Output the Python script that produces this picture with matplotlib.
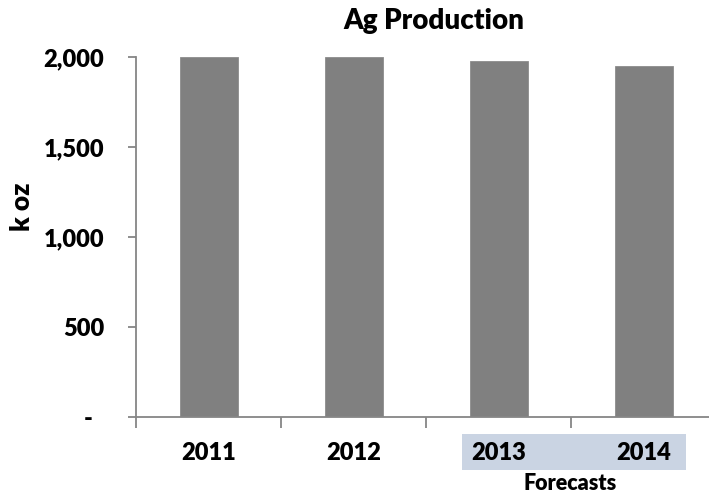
import matplotlib
matplotlib.use("Agg")
import matplotlib.pyplot as plt
from matplotlib.patches import Rectangle
from matplotlib.transforms import blended_transform_factory
from matplotlib.ticker import FuncFormatter, FixedLocator

years = ["2011", "2012", "2013", "2014"]
production = [2000, 2000, 1978, 1952]
y_ticks = [0, 500, 1000, 1500, 2000]
title = "Ag Production"
ylabel = "k oz"
forecast_label = "Forecasts"

plt.rcParams['font.family'] = ['Lato', 'DejaVu Sans']
WEIGHT = "heavy"

W, H = 709, 493
fig = plt.figure(figsize=(W / 100, H / 100), dpi=100)
ax = fig.add_axes([136 / W, 1 - 416.7 / H, 580 / W, (416.7 - 57) / H])

x = list(range(len(years)))
ax.bar(x, production, width=0.40, color="#808080", edgecolor="#8c8c8c", linewidth=0.6, zorder=2)

ax.set_xlim(-0.5, len(years) - 0.5)
ax.set_ylim(0, 2000)

axis_col = "#868686"
for s in ["top", "right"]:
    ax.spines[s].set_visible(False)
for s in ["left", "bottom"]:
    ax.spines[s].set_color(axis_col)
    ax.spines[s].set_linewidth(1.3)

ax.yaxis.set_major_locator(FixedLocator(y_ticks))
ax.yaxis.set_major_formatter(FuncFormatter(lambda v, p: "-  " if v == 0 else f"{int(v):,}"))
ax.tick_params(axis="y", length=6, width=1.3, color=axis_col, pad=17, labelsize=17)

ax.set_xticks(x)
ax.set_xticklabels(years)
ax.tick_params(axis="x", which="major", length=0, pad=18, labelsize=17)
ax.set_xticks([i - 0.5 for i in range(len(years) + 1)], minor=True)
ax.tick_params(axis="x", which="minor", length=8, width=1.3, color=axis_col)

for lbl in ax.get_xticklabels() + ax.get_yticklabels():
    lbl.set_fontweight(WEIGHT)

# forecast highlight box
trans = blended_transform_factory(ax.transData, fig.transFigure)
rect = Rectangle((1.75, 1 - 470 / H), 3.295 - 1.75, 36 / H, transform=trans,
                 facecolor="#CAD4E3", edgecolor="none", clip_on=False, zorder=0.5)
ax.add_patch(rect)
fig.text((1.75 + 3.295) / 2 - 0.03, 1 - 484 / H, forecast_label, transform=trans,
         ha="center", va="center", fontsize=15.5, fontweight=WEIGHT)

fig.text(434 / W, 1 - 21 / H, title, ha="center", va="center", fontsize=20, fontweight=WEIGHT)
fig.text(22 / W, 1 - 207 / H, ylabel, ha="center", va="center", rotation=90,
         fontsize=19, fontweight=WEIGHT)

fig.savefig("out.png", dpi=100)
